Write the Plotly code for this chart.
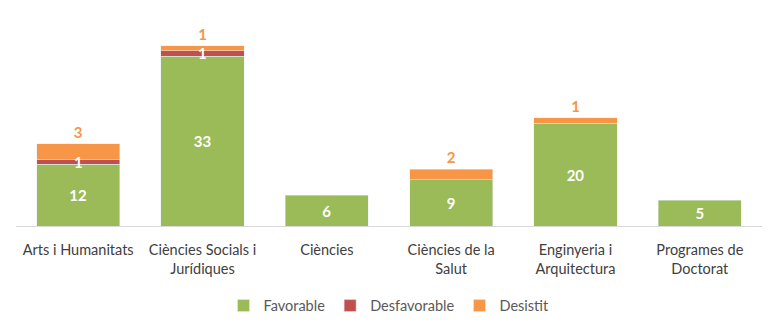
import plotly.graph_objects as go

categories = ["Arts i Humanitats", "Ciències Socials i<br>Jurídiques", "Ciències",
              "Ciències de la<br>Salut", "Enginyeria i<br>Arquitectura", "Programes de<br>Doctorat"]
favorable = [12, 33, 6, 9, 20, 5]
desfavorable = [1, 1, None, None, None, None]
desistit = [3, 1, None, 2, 1, None]

GREEN = "#9BBB59"
RED = "#C0504D"
ORANGE = "#F79646"
FONT = "Lato"

def labels(vals):
    return [None if v is None else str(v) for v in vals]

fig = go.Figure()
fig.add_trace(go.Bar(x=categories, y=favorable, name="Favorable", marker_color=GREEN,
                     text=labels(favorable), textposition="inside", insidetextanchor="middle",
                     textfont=dict(color="white", size=15, family=FONT, weight="bold"),
                     constraintext="none", hoverinfo="skip"))
fig.add_trace(go.Bar(x=categories, y=desfavorable, name="Desfavorable", marker_color=RED,
                     hoverinfo="skip"))
fig.add_trace(go.Bar(x=categories, y=desistit, name="Desistit", marker_color=ORANGE,
                     text=labels(desistit), textposition="outside", cliponaxis=False,
                     textfont=dict(color=ORANGE, size=15, family=FONT, weight="bold"),
                     constraintext="none", hoverinfo="skip"))

# Desfavorable labels (white, centred on the thin red band)
for c, f, d in zip(categories, favorable, desfavorable):
    if d is not None:
        fig.add_annotation(x=c, y=f + d / 2, text=str(d), showarrow=False,
                           font=dict(color="white", size=15, family=FONT, weight="bold"),
                           yanchor="middle")

fig.update_layout(
    barmode="stack",
    bargap=0.33,
    width=778, height=332,
    margin=dict(l=16, r=16, t=20, b=105),
    paper_bgcolor="white", plot_bgcolor="white",
    font=dict(family=FONT, size=14.5, color="#595959"),
    showlegend=True,
    legend=dict(orientation="h", x=0.5, xanchor="center", y=-0.38, yanchor="middle",
                font=dict(size=14.5, color="#595959", family=FONT), traceorder="normal"),
)
fig.update_xaxes(showline=True, linecolor="#D9D9D9", linewidth=1, ticks="",
                 ticklabelstandoff=11,
                 tickfont=dict(size=14.5, color="#404040", family=FONT), showgrid=False, fixedrange=True)
fig.update_yaxes(range=[0, 40], visible=False, showgrid=False, zeroline=False, fixedrange=True)

fig.write_html("out.html", config={"displayModeBar": False})
